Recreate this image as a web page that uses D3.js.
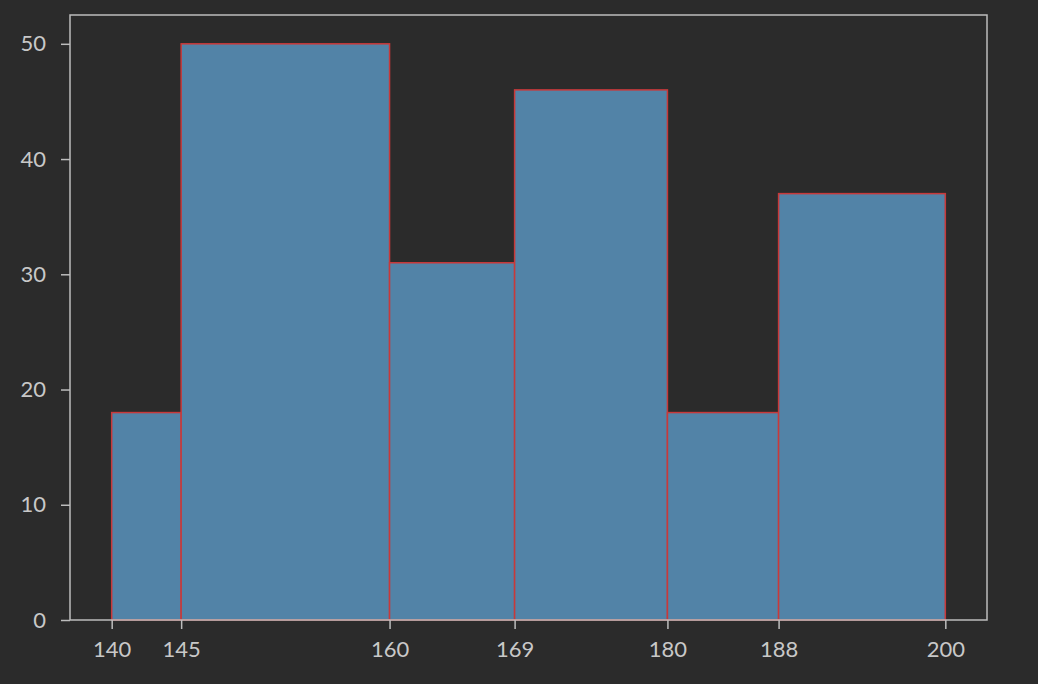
<!DOCTYPE html>
<html><head><meta charset="utf-8">
<script src="https://cdn.jsdelivr.net/npm/d3@7"></script>
<style>html,body{margin:0;padding:0;background:#2b2b2b;}</style>
</head><body>
<svg id="c" width="1038" height="684"></svg>
<script>
const binEdges = [140, 145, 160, 169, 180, 188, 200];
const counts = [18, 50, 31, 46, 18, 37];
const yTicks = [0, 10, 20, 30, 40, 50];

const svg = d3.select('#c');
svg.append('rect').attr('width',1038).attr('height',684).attr('fill','#2b2b2b');
const L=70, R=987, T=15, B=620;
const x = d3.scaleLinear().domain([137, 203]).range([L, R]);
const y = d3.scaleLinear().domain([0, 52.5]).range([B, T]);

const bins = counts.map((c,i)=>({x0:binEdges[i], x1:binEdges[i+1], c}));
svg.selectAll('rect.bar').data(bins).enter().append('rect')
  .attr('class','bar')
  .attr('x', d=>x(d.x0)).attr('width', d=>x(d.x1)-x(d.x0))
  .attr('y', d=>y(d.c)).attr('height', d=>y(0)-y(d.c))
  .attr('fill','#5283a7').attr('stroke','#c8393a').attr('stroke-width',1.5);

const font = "Lato, 'DejaVu Sans', sans-serif";
const xa = svg.append('g').attr('transform',`translate(0,${B})`)
  .call(d3.axisBottom(x).tickValues(binEdges).tickFormat(d3.format('d')).tickSize(9).tickPadding(12));
const ya = svg.append('g').attr('transform',`translate(${L},0)`)
  .call(d3.axisLeft(y).tickValues(yTicks).tickFormat(d3.format('d')).tickSize(9).tickPadding(15));
[xa,ya].forEach(a=>{
  a.select('.domain').remove();
  a.selectAll('line').attr('stroke','#bdbdbd').attr('stroke-width',1.5);
  a.selectAll('text').attr('fill','#c8c8c8').style('font-family',font).style('font-size','22px').style('font-weight',400);
});
svg.append('rect').attr('x',L).attr('y',T).attr('width',R-L).attr('height',B-T)
  .attr('fill','none').attr('stroke','#bdbdbd').attr('stroke-width',1.5);
</script>
</body></html>
